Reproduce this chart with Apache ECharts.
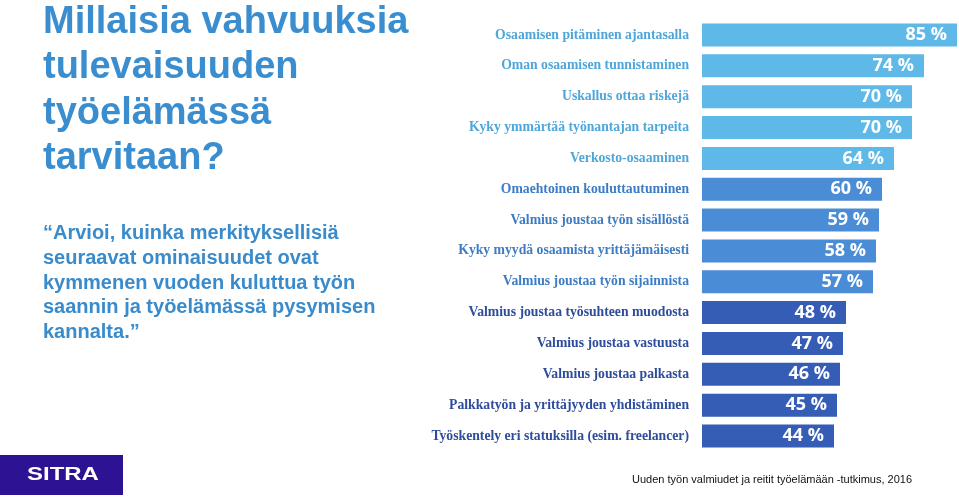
<!DOCTYPE html>
<html>
<head>
<meta charset="utf-8">
<script src="https://cdn.jsdelivr.net/npm/echarts@6/dist/echarts.min.js"></script>
<style>
html,body{margin:0;padding:0;background:#fff;}
#chart{width:959px;height:498px;}
</style>
</head>
<body>
<div id="chart"></div>
<script>
const categories = [
  'Osaamisen pitäminen ajantasalla',
  'Oman osaamisen tunnistaminen',
  'Uskallus ottaa riskejä',
  'Kyky ymmärtää työnantajan tarpeita',
  'Verkosto-osaaminen',
  'Omaehtoinen kouluttautuminen',
  'Valmius joustaa työn sisällöstä',
  'Kyky myydä osaamista yrittäjämäisesti',
  'Valmius joustaa työn sijainnista',
  'Valmius joustaa työsuhteen muodosta',
  'Valmius joustaa vastuusta',
  'Valmius joustaa palkasta',
  'Palkkatyön ja yrittäjyyden yhdistäminen',
  'Työskentely eri statuksilla (esim. freelancer)'
];
const values = [85, 74, 70, 70, 64, 60, 59, 58, 57, 48, 47, 46, 45, 44];
const groups = ['a','a','a','a','a','b','b','b','b','c','c','c','c','c'];

const titleText = 'Millaisia vahvuuksia\ntulevaisuuden\ntyöelämässä\ntarvitaan?';
const subtitleText = '\u201CArvioi, kuinka merkityksellisiä\nseuraavat ominaisuudet ovat\nkymmenen vuoden kuluttua työn\nsaannin ja työelämässä pysymisen\nkannalta.\u201D';
const sourceText = 'Uuden työn valmiudet ja reitit työelämään -tutkimus, 2016';
const logoText = 'SITRA';

const barColors = {a: '#5fb9e8', b: '#4a8dd6', c: '#355db6'};
const labelColors = {a: '#4ea6d9', b: '#3d7cc4', c: '#2e4c9c'};

const chart = echarts.init(document.getElementById('chart'), null, {renderer: 'canvas'});
chart.setOption({
  animation: false,
  backgroundColor: '#ffffff',
  grid: {left: 702, top: 19.6, right: 0, height: 431.8, containLabel: false},
  xAxis: {type: 'value', min: 0, max: 85.667, show: false},
  yAxis: {
    type: 'category',
    inverse: true,
    data: categories.map((c, i) => ({value: c, textStyle: {color: labelColors[groups[i]]}})),
    axisLine: {show: false},
    axisTick: {show: false},
    splitLine: {show: false},
    axisLabel: {
      margin: 13,
      fontFamily: 'Liberation Serif',
      fontWeight: 'bold',
      fontSize: 13.7
    }
  },
  series: [{
    type: 'bar',
    barWidth: 23,
    data: values.map((v, i) => ({value: v, itemStyle: {color: barColors[groups[i]]}})),
    label: {
      show: true,
      position: 'insideRight',
      distance: 10,
      formatter: p => p.value + ' %',
      color: '#ffffff',
      fontFamily: 'Open Sans',
      fontWeight: 'bold',
      fontSize: 18
    }
  }],
  graphic: [
    {
      type: 'text', left: 43, top: 0,
      style: {
        text: titleText, fill: '#3a8ecf',
        font: 'bold 38px "Liberation Sans"', lineHeight: 45.3
      }
    },
    {
      type: 'text', left: 43, top: 221,
      style: {
        text: subtitleText, fill: '#3a8bcb',
        font: 'bold 20px "Liberation Sans"', lineHeight: 24.8
      }
    },
    {
      type: 'rect', shape: {x: 0, y: 455, width: 123, height: 40},
      style: {fill: '#2d1294'}
    },
    {
      type: 'text', x: 63, y: 475, scaleX: 1.33, originX: 0, originY: 0,
      style: {
        text: logoText, fill: '#ffffff',
        font: 'bold 18px "Liberation Sans"', align: 'center', verticalAlign: 'middle'
      }
    },
    {
      type: 'text', left: 632, top: 474,
      style: {
        text: sourceText, fill: '#111111',
        font: '11px "Liberation Sans"'
      }
    }
  ]
});
</script>
</body>
</html>
